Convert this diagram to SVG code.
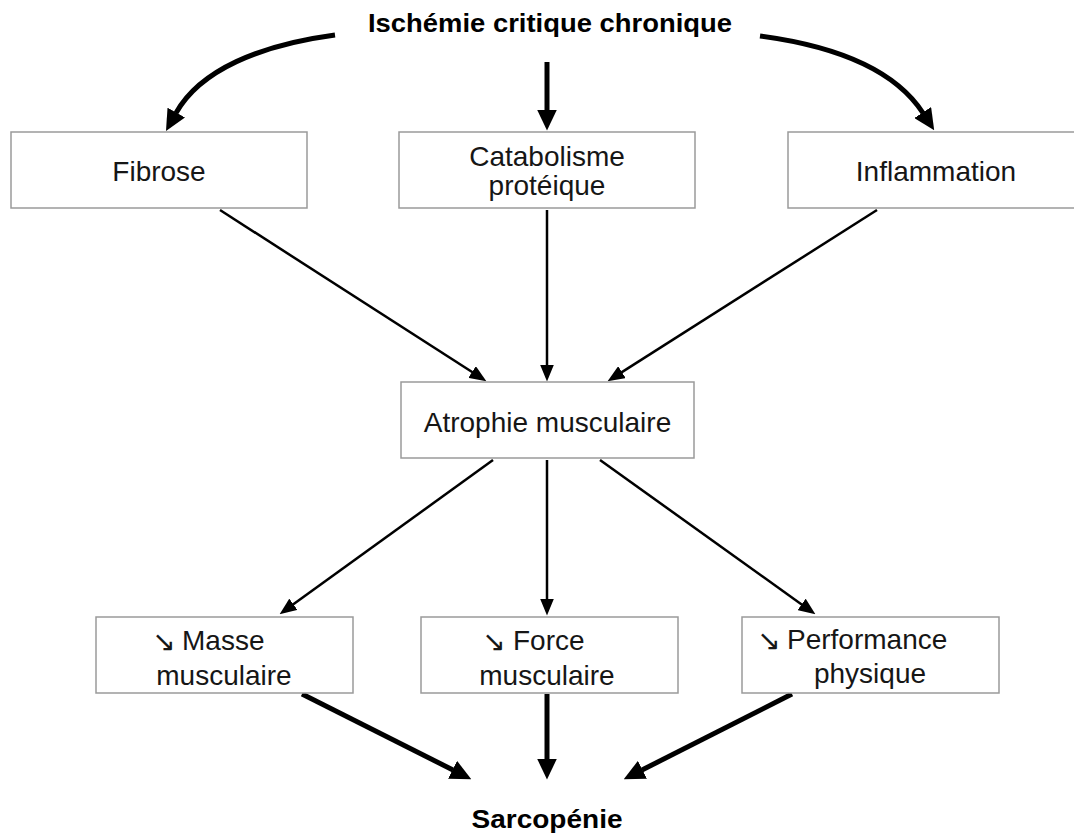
<svg xmlns="http://www.w3.org/2000/svg" width="1074" height="839" viewBox="0 0 1074 839">
<defs>
<style>
.box{fill:#fff;stroke:#9a9a9a;stroke-width:1.5}
.lbl{font-family:"Liberation Sans",Arial,sans-serif;font-size:28px;fill:#161616;text-anchor:middle}
.lbs{font-family:"Liberation Sans",Arial,sans-serif;font-size:28px;fill:#161616}
.arr{font-family:"DejaVu Sans",sans-serif;font-size:28px;fill:#161616}
.ttl{font-family:"Liberation Sans",Arial,sans-serif;font-size:26px;font-weight:bold;fill:#000;text-anchor:middle}
.thick{fill:none;stroke:#000;stroke-width:5;marker-end:url(#big)}
.thin{fill:none;stroke:#000;stroke-width:2.5;marker-end:url(#small)}
</style>
<marker id="big" markerUnits="userSpaceOnUse" markerWidth="21" markerHeight="20" viewBox="0 0 21 20" refX="0.5" refY="10" orient="auto">
<path d="M0,0 L21,10 L0,20 z" fill="#000"/>
</marker>
<marker id="small" markerUnits="userSpaceOnUse" markerWidth="17" markerHeight="14" viewBox="0 0 17 14" refX="0.5" refY="7" orient="auto">
<path d="M0,0 L17,7 L0,14 z" fill="#000"/>
</marker>
</defs>
<rect width="1074" height="839" fill="#fff"/>

<g id="connectors">
<path class="thick" d="M335,35 C260,45 200,70 176,113"/>
<path class="thick" d="M547,62 L547,110"/>
<path class="thick" d="M760,36 C835,46 895,70 923,113"/>
<path class="thin" d="M220,210 L472.5,372.3"/>
<path class="thin" d="M547,210 L547,365"/>
<path class="thin" d="M877,210 L621.5,372.4"/>
<path class="thin" d="M493,460 L293,604.6"/>
<path class="thin" d="M547,460 L547,599"/>
<path class="thin" d="M600,460 L802,604.7"/>
<path class="thick" d="M302,694 L453,770"/>
<path class="thick" d="M547,694 L547,759"/>
<path class="thick" d="M792,694 L642,770"/>
</g>

<g id="ischemie">
<text class="ttl" x="550" y="32" textLength="364" lengthAdjust="spacingAndGlyphs">Ischémie critique chronique</text>
</g>

<g id="fibrose">
<rect class="box" x="11" y="132" width="296" height="76"/>
<text class="lbl" x="159" y="181">Fibrose</text>
</g>

<g id="catabolisme">
<rect class="box" x="399" y="132" width="296" height="76"/>
<text class="lbl" x="547" y="166">Catabolisme</text>
<text class="lbl" x="547" y="195">protéique</text>
</g>

<g id="inflammation">
<rect class="box" x="788" y="132" width="296" height="76"/>
<text class="lbl" x="936" y="181">Inflammation</text>
</g>

<g id="atrophie">
<rect class="box" x="401" y="382" width="293" height="76"/>
<text class="lbl" x="547.5" y="432">Atrophie musculaire</text>
</g>

<g id="masse">
<rect class="box" x="96" y="617" width="257" height="76"/>
<text class="arr" x="152" y="651">↘</text>
<text class="lbs" x="182" y="650">Masse</text>
<text class="lbl" x="224" y="685">musculaire</text>
</g>

<g id="force">
<rect class="box" x="421" y="617" width="257" height="76"/>
<text class="arr" x="482" y="651">↘</text>
<text class="lbs" x="513" y="650">Force</text>
<text class="lbl" x="547" y="685">musculaire</text>
</g>

<g id="performance">
<rect class="box" x="742" y="617" width="257" height="76"/>
<text class="arr" x="757" y="650">↘</text>
<text class="lbs" x="787" y="649">Performance</text>
<text class="lbl" x="870" y="683">physique</text>
</g>

<g id="sarcopenie">
<text class="ttl" x="547" y="828" textLength="151" lengthAdjust="spacingAndGlyphs">Sarcopénie</text>
</g>
</svg>
